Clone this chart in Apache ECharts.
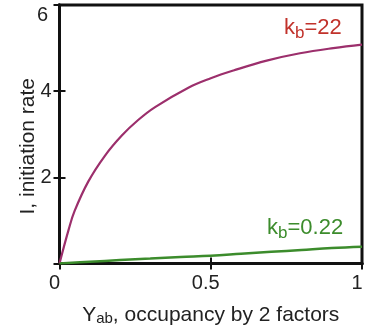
<!DOCTYPE html>
<html>
<head>
<meta charset="utf-8">
<script src="https://cdn.jsdelivr.net/npm/echarts@6/dist/echarts.min.js"></script>
<style>
  html, body { margin: 0; padding: 0; background: #fff; }
  #chart { width: 365px; height: 327px; }
</style>
</head>
<body>
<div id="chart"></div>
<script>
// occupancy (x) and initiation rate (y)
var highKbX = [0, 0.03, 0.05, 0.095, 0.15, 0.206, 0.26, 0.316, 0.426, 0.5, 0.575, 0.685, 0.795, 0.905, 1.0];
var highKbY = [0, 0.78, 1.22, 1.9, 2.5, 2.97, 3.33, 3.63, 4.08, 4.3, 4.48, 4.71, 4.88, 5.0, 5.08];
var lowKbX = [0, 0.1, 0.2, 0.3, 0.4, 0.5, 0.6, 0.7, 0.8, 0.9, 1.0];
var lowKbY = [0, 0.04, 0.08, 0.115, 0.15, 0.18, 0.225, 0.27, 0.315, 0.36, 0.39];
var xTicks = [0, 0.5, 1];
var yTicks = [2, 4, 6];

var font = "Liberation Sans, Arial, sans-serif";
var chart = echarts.init(document.getElementById("chart"));

function pairs(xs, ys) {
  return xs.map(function (x, i) { return [x, ys[i]]; });
}

var boxAxis = {
  axisLine: { show: true, lineStyle: { color: "#111", width: 3 } },
  axisTick: { show: true, inside: true, length: 6, lineStyle: { color: "#111", width: 2 } },
  splitLine: { show: false }
};

var option = {
  animation: false,
  grid: {
    left: 59.5,
    right: 3,
    top: 5,
    bottom: 63.5,
    outerBoundsMode: "none",
    show: true,
    borderColor: "#111",
    borderWidth: 3
  },
  xAxis: [
    Object.assign({
      type: "value",
      min: 0,
      max: 1,
      interval: 0.5,
      name: "{n|Y}{s|ab}{n|, occupancy by 2 factors}",
      nameLocation: "middle",
      nameGap: 40,
      nameMoveOverlap: false,
      nameTextStyle: {
        rich: {
          n: { fontSize: 21, color: "#222", fontFamily: font },
          s: { fontSize: 15, color: "#222", fontFamily: font, verticalAlign: "bottom", padding: [8, 0, 0, 0] }
        }
      },
      axisLabel: {
        margin: 10,
        fontSize: 20,
        color: "#222",
        fontFamily: font,
        padding: [0, 10, 0, 0],
        formatter: function (v) { return xTicks.indexOf(v) >= 0 ? String(v) : ""; }
      }
    }, boxAxis),
    Object.assign({
      type: "value",
      position: "top",
      min: 0,
      max: 1,
      interval: 0.5,
      axisLabel: { show: false }
    }, boxAxis)
  ],
  yAxis: [
    Object.assign({
      type: "value",
      min: 0,
      max: 6,
      interval: 2,
      name: "I, initiation rate",
      nameLocation: "middle",
      nameGap: 21,
      nameMoveOverlap: false,
      nameTextStyle: { fontSize: 21, color: "#222", fontFamily: font, padding: [0, 24, 0, 0] },
      axisLabel: {
        margin: 8,
        fontSize: 20,
        color: "#222",
        fontFamily: font,
        showMinLabel: false,
        showMaxLabel: false,
        formatter: function (v) { return yTicks.indexOf(v) >= 0 ? String(v) : ""; }
      }
    }, boxAxis),
    Object.assign({
      type: "value",
      position: "right",
      min: 0,
      max: 6,
      interval: 2,
      axisLabel: { show: false }
    }, boxAxis)
  ],
  series: [
    {
      name: "kb=22",
      type: "line",
      data: pairs(highKbX, highKbY),
      smooth: 0.4,
      showSymbol: false,
      lineStyle: { color: "#9c2f6c", width: 2.2 },
      itemStyle: { color: "#9c2f6c" },
      z: 3
    },
    {
      name: "kb=0.22",
      type: "line",
      data: pairs(lowKbX, lowKbY),
      smooth: 0.4,
      showSymbol: false,
      lineStyle: { color: "#3c8c2c", width: 2.5 },
      itemStyle: { color: "#3c8c2c" },
      z: 3
    }
  ],
  graphic: [
    {
      // top y label sits a little below its tick in the figure
      type: "text",
      left: 37,
      top: 5,
      style: { text: String(yTicks[2]), fontSize: 20, fill: "#222", fontFamily: font }
    },
    {
      type: "text",
      left: 284,
      top: 17,
      style: {
        text: "{n|k}{s|b}{n|=22}",
        rich: {
          n: { fontSize: 22, fill: "#c1322b", fontFamily: font },
          s: { fontSize: 17, fill: "#c1322b", fontFamily: font, padding: [11, 0, 0, 0] }
        }
      }
    },
    {
      type: "text",
      left: 267,
      top: 217,
      style: {
        text: "{n|k}{s|b}{n|=0.22}",
        rich: {
          n: { fontSize: 22, fill: "#3c8c2c", fontFamily: font },
          s: { fontSize: 17, fill: "#3c8c2c", fontFamily: font, padding: [11, 0, 0, 0] }
        }
      }
    }
  ]
};

chart.setOption(option);
window.addEventListener("resize", function () {
  chart.resize();
});
</script>
</body>
</html>
